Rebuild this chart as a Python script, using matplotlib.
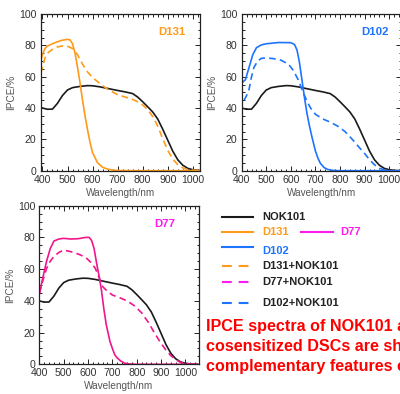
import matplotlib
matplotlib.use("Agg")
import matplotlib.pyplot as plt
from matplotlib.ticker import MultipleLocator

# ---------------- data ----------------
nok_x = [400, 420, 440, 460, 480, 500, 520, 550, 580, 600, 630, 660, 700, 730, 760, 780,
         800, 820, 840, 860, 880, 900, 920, 940, 960, 980, 1000, 1030, 1050]
nok_y = [40, 39.2, 39.3, 43, 48, 51.5, 53, 53.8, 54.3, 54.2, 53.5, 52.5, 51.2, 50.3, 49.2, 47,
         44, 40.8, 37.5, 33, 26.5, 19.5, 12.5, 7, 3.5, 1.5, 0.6, 0.1, 0]

d131_x = [393, 400, 410, 420, 440, 460, 480, 500, 510, 520, 530, 540, 550, 560, 570, 580, 590,
          600, 620, 640, 660, 680, 700, 750, 1050]
d131_y = [70, 74, 78, 79.5, 81, 82.3, 83.3, 83.8, 83.5, 81, 75, 66, 56, 45, 35, 26, 18,
          11.5, 5, 2.2, 1, 0.4, 0.1, 0, 0]

d131n_x = [393, 400, 410, 420, 440, 460, 480, 500, 520, 540, 560, 580, 600, 630, 660, 700, 730,
           760, 780, 800, 820, 840, 860, 880, 900, 920, 940, 960, 980, 1000, 1050]
d131n_y = [62, 66, 72, 75, 77.5, 79, 79.6, 79.4, 78, 74, 68, 63, 59.5, 55.5, 52, 48.5, 47,
           45.5, 44, 42, 39, 34.5, 28.5, 20.5, 13, 7.5, 3.8, 1.8, 0.7, 0.3, 0]

d102_x = [400, 415, 430, 445, 460, 480, 500, 550, 600, 615, 625, 635, 645, 655, 665, 675, 685,
          700, 710, 720, 735, 750, 770, 800, 1050]
d102_y = [56, 58, 66, 74, 78.5, 80.3, 81, 81.8, 81.7, 80.5, 77, 69, 58, 47, 37, 29, 22,
          12.5, 8, 4.7, 2, 0.8, 0.2, 0, 0]

d102n_x = [410, 420, 430, 440, 450, 465, 480, 500, 530, 560, 590, 610, 630, 650, 665, 680, 700,
           730, 760, 790, 820, 850, 880, 900, 920, 940, 960, 980, 1000]
d102n_y = [45, 48, 52, 60, 66, 70, 71.7, 72, 71.5, 70.5, 68, 64, 58, 50, 44.5, 40, 36,
           33, 31, 28.5, 25, 20, 14.5, 11, 7, 3.8, 1.6, 0.5, 0.1]

d77_x = [400, 415, 430, 445, 460, 480, 500, 530, 560, 590, 605, 615, 625, 635, 645, 655, 665,
         675, 690, 700, 710, 720, 735, 750, 770, 800, 1050]
d77_y = [44, 55, 65, 73, 77.7, 79, 79.4, 79, 79.2, 80, 80, 78, 73, 64, 56, 47, 35,
         25, 14.5, 10, 6, 4, 2, 0.7, 0.2, 0, 0]

d77n_x = [400, 415, 430, 445, 460, 480, 500, 530, 560, 590, 610, 630, 645, 660, 680, 700, 730,
          760, 790, 820, 850, 870, 900, 920, 940, 960, 980, 1000, 1030]
d77n_y = [44.7, 53, 60.5, 65, 68, 70.5, 72, 71, 69.5, 67.5, 64.5, 60.5, 55, 49, 46, 43.7, 42,
          40, 37, 32.5, 26, 20.5, 13.2, 9, 5.5, 3, 1.2, 0.5, 0.1]

x_ticks = [400, 500, 600, 700, 800, 900, 1000]
y_ticks = [0, 20, 40, 60, 80, 100]

panel_names = ["D131", "D102", "D77"]
legend_labels = ["NOK101", "D131", "D77", "D102", "D131+NOK101", "D77+NOK101", "D102+NOK101"]
note_lines = ["IPCE spectra of NOK101 and", "cosensitized DSCs are shown", "complementary features of"]

# ---------------- style ----------------
C_BLACK = "#1a1a1a"
C_OR = "#FF9A1A"
C_BL = "#1E74FF"
C_PK = "#F0168C"
C_MG = "#FF1AF0"

plt.rcParams['font.family'] = ['Liberation Sans', 'DejaVu Sans']

W, H = 400, 394
fig = plt.figure(figsize=(W / 100, H / 100), dpi=100)
fig.patch.set_facecolor("white")


def px_axes(left, top, right, bottom):
    return fig.add_axes([left / W, 1 - bottom / H, (right - left) / W, (bottom - top) / H])


def style(ax, xlim):
    ax.set_xlim(*xlim)
    ax.set_ylim(0, 100)
    ax.set_xticks(x_ticks)
    ax.set_yticks(y_ticks)
    ax.xaxis.set_minor_locator(MultipleLocator(20))
    ax.yaxis.set_minor_locator(MultipleLocator(5))
    ax.tick_params(which='both', direction='in', top=True, right=True, colors="#222222",
                   labelcolor="#333333", labelsize=7.6, width=0.7)
    ax.tick_params(which='major', length=3.5, pad=3)
    ax.tick_params(which='minor', length=1.8)
    for s in ax.spines.values():
        s.set_linewidth(0.9)
        s.set_color("#222222")
    ax.set_xlabel("Wavelength/nm", fontsize=7.2, color="#555555", labelpad=2)
    ax.set_ylabel("IPCE/%", fontsize=7.2, color="#555555", labelpad=2)


lw = 1.2
# Panel 1: D131
ax1 = px_axes(40.7, 14, 200.3, 170.7)
style(ax1, (393, 1030))
ax1.plot(nok_x, nok_y, color=C_BLACK, lw=lw)
ax1.plot(d131_x, d131_y, color=C_OR, lw=lw)
ax1.plot(d131n_x, d131n_y, color=C_OR, lw=lw, ls=(0, (4, 2.5)))
ax1.text(0.905, 0.885, panel_names[0], transform=ax1.transAxes, color=C_OR,
         fontsize=8.2, fontweight='bold', ha='right', va='center')

# Panel 2: D102
ax2 = px_axes(241.7, 14, 401.5, 170.7)
style(ax2, (400, 1050))
ax2.plot(nok_x, nok_y, color=C_BLACK, lw=lw)
ax2.plot(d102_x, d102_y, color=C_BL, lw=lw)
ax2.plot(d102n_x, d102n_y, color=C_BL, lw=lw, ls=(0, (4, 2.5)))
ax2.text(0.92, 0.885, panel_names[1], transform=ax2.transAxes, color=C_BL,
         fontsize=8.2, fontweight='bold', ha='right', va='center')

# Panel 3: D77
ax3 = px_axes(39.3, 205.7, 198.8, 364.3)
style(ax3, (400, 1055))
ax3.plot(nok_x, nok_y, color=C_BLACK, lw=lw)
ax3.plot(d77_x, d77_y, color=C_PK, lw=lw)
ax3.plot(d77n_x, d77n_y, color=C_PK, lw=lw, ls=(0, (4, 2.5)))
ax3.text(0.855, 0.885, panel_names[2], transform=ax3.transAxes, color=C_MG,
         fontsize=8.2, fontweight='bold', ha='right', va='center')

# ---------------- legend (drawn in pixel coordinates) ----------------
def fx(x):
    return x / W


def fy(y):
    return 1 - y / H


entries = [
    # label, color, text color, dashed, line x0, x1, y_line, text x, y_text
    (legend_labels[0], C_BLACK, "#222222", False, 221.7, 253.3, 216.7, 262.5, 216.7),
    (legend_labels[1], C_OR, C_OR, False, 221.7, 253.3, 232.3, 262.5, 232.3),
    (legend_labels[2], C_MG, C_MG, False, 301.0, 332.7, 232.3, 340.7, 232.3),
    (legend_labels[3], C_BL, C_BL, False, 221.7, 253.3, 247.3, 262.5, 251.5),
    (legend_labels[4], C_OR, "#222222", True, 221.7, 253.3, 265.7, 262.5, 265.7),
    (legend_labels[5], C_MG, "#222222", True, 221.7, 253.3, 281.7, 262.5, 281.7),
    (legend_labels[6], C_BL, "#222222", True, 221.7, 253.3, 303.3, 262.5, 303.3),
]
for lab, col, tcol, dashed, x0, x1, yl, tx, ty in entries:
    ls = (0, (4.7, 3.3)) if dashed else '-'
    fig.add_artist(plt.Line2D([fx(x0), fx(x1)], [fy(yl), fy(yl)], color=col, lw=1.5,
                              ls=ls, transform=fig.transFigure))
    fig.text(fx(tx), fy(ty), lab, color=tcol, fontsize=8, fontweight='bold',
             ha='left', va='center')

# ---------------- red note ----------------
for i, line in enumerate(note_lines):
    fig.text(fx(206), fy(326.7 + i * 20), line, color="#FF0000", fontsize=11.6,
             fontweight='bold', ha='left', va='center')

fig.savefig("out.png", dpi=100, facecolor="white")
